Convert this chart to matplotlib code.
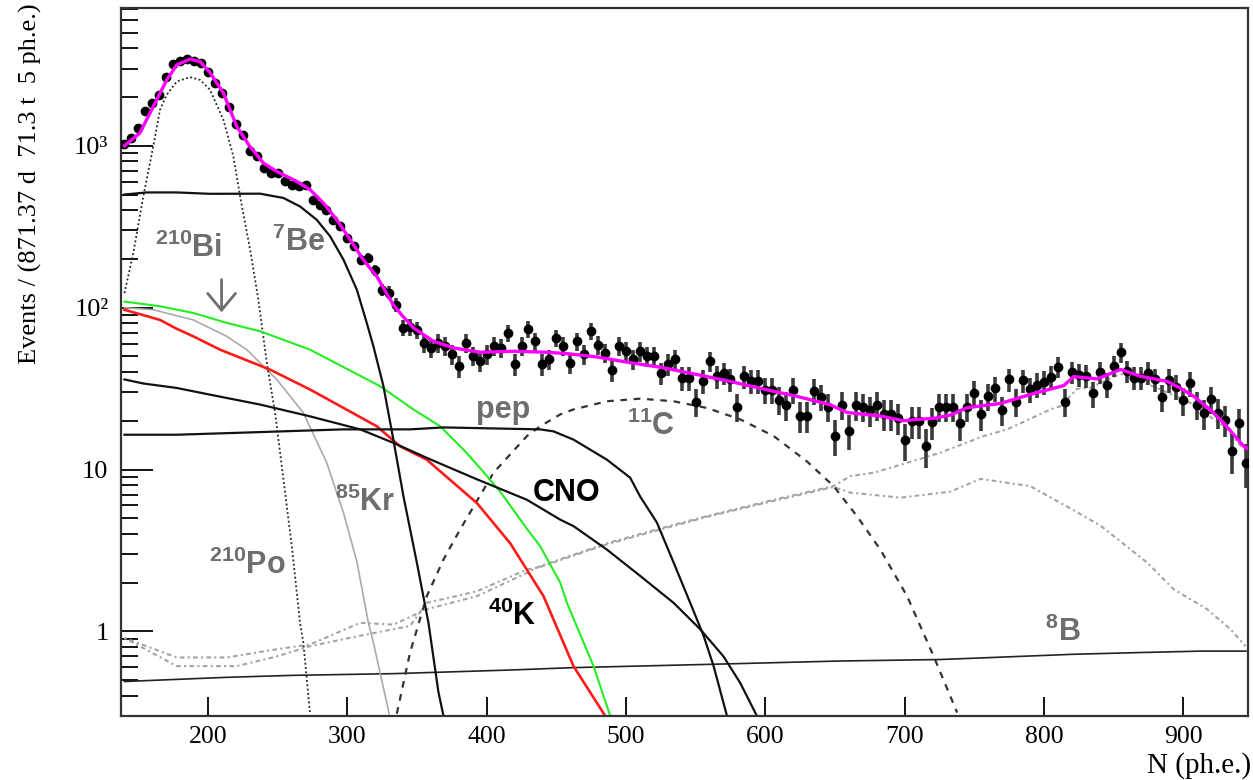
import numpy as np
import matplotlib.pyplot as plt
from matplotlib.ticker import LogLocator, NullLocator, FixedLocator, FixedFormatter

plt.rcParams['font.family'] = 'Liberation Serif'
plt.rcParams['mathtext.fontset'] = 'custom'
plt.rcParams['mathtext.bf'] = 'Liberation Sans:bold'
plt.rcParams['mathtext.rm'] = 'Liberation Sans:bold'

####### DADOS
# histograma: bins de 5 ph.e. a partir de 140
bin_centres = np.arange(140, 950, 5)
counts = [1030, 1117, 1286, 1630, 1834, 2065, 2654, 3210, 3360, 3430,
          3360, 3270, 2870, 2460, 2130, 1730, 1370, 1170, 935, 860,
          728, 678, 678, 603, 575, 561, 575, 464, 432, 403,
          350, 318, 270, 239, 197, 204, 171, 129, 124, 104,
          75, 76, 73,
          60.6, 56, 60.6, 57.8, 51.6, 43.6, 60.6, 50.4, 46.6, 51.6,
          57.8, 56.4, 69.8, 44.7, 57.8, 73.9, 62, 44.7, 48, 65,
          57.8, 45.7, 62, 51.6, 71.4, 59, 52.6, 41.2, 57.8, 53.8,
          48, 53.8, 50.3, 50.3, 39.4, 44.7, 48, 36.8, 36.8, 26.3,
          35, 46.6, 37.6, 39.4, 36, 24.5, 37.6, 35, 35, 31.1,
          31.1, 27, 25, 31.1, 21.4, 21.4, 30.5, 28.2, 24.5, 16.1,
          25.1, 17.4, 25, 24.5, 23.2, 25,
          22.1, 22.1, 20.8, 15.2, 20, 20, 14, 19.7, 24.5, 24.5,
          24.5, 19.4, 24.5, 29.8, 22.1, 28.3, 31.8, 23.3, 36, 26.3,
          35.5, 31.3, 33.5, 34.6, 37.3, 43.1, 26.3, 40, 38.6, 38,
          29.5, 40, 33.5, 43.9, 52.9, 40.5, 36.9, 36.9, 39.6, 36,
          28, 35.8, 32.5, 26.7, 34, 25.1, 22.3, 27.3, 22.5, 20.3,
          13, 19.3, 11]

fit_x = [140, 151, 160.7, 170.3, 177.5, 187, 194.3, 201.4, 211, 220.6,
         230, 239.7, 249.3, 263.7, 273.3, 282.8, 292.4, 302, 311.5, 321.1,
         333, 340, 347.4, 361.8, 376.2, 395.3, 419.2, 443.2, 457.6, 479.1,
         503, 527, 551, 574.9, 598.8, 622.8, 646.7, 658.7, 682.6, 699.3,
         708.9, 720.9, 732.9, 744.8, 768.8, 792.7, 814.2, 821.4, 838.2, 855,
         869.3, 888.5, 898, 907.6, 919.6, 929.1, 934, 943.5, 946]
fit_y = [1000, 1198, 1750, 2550, 3160, 3430, 3310, 2830, 2120, 1316,
         990, 782, 694, 602, 535, 443, 349, 263, 197, 156,
         104, 88, 75, 62, 56.4, 53, 53.8, 53, 52, 49.6,
         45.7, 42.5, 38.6, 35, 31.4, 28.3, 25.1, 22.5, 21.4, 20,
         20.4, 20.7, 21.7, 24.1, 25.6, 29.5, 33, 37.5, 36.3, 41.5,
         37.7, 35, 31.8, 28.3, 23.3, 19.4, 17.3, 13.9, 13.5]

po210_x = [140, 146.4, 153.5, 160.7, 165.5, 170.3, 177.5, 187, 194.3, 201.4,
           211, 218.2, 223, 230.2, 236.1, 242.2, 248.1, 254.1, 260.1, 266,
           268.4, 273.2]
po210_y = [123, 219, 486, 996, 1667, 2065, 2494, 2655, 2553, 2218,
           1447, 858, 486, 228, 112, 45.5, 22.4, 8.7, 3.36, 1.13,
           0.85, 0.31]

be7_x = [140, 156, 177.5, 201.4, 237.3, 254.1, 266, 278, 287.6, 297.2,
         306.8, 314, 318.7, 325.9, 333, 340.3, 349.9, 358.2, 365.4, 369]
be7_y = [500, 515, 515, 505, 506, 476, 422, 349, 276, 198,
         129, 80, 57.7, 32.7, 15.3, 6.8, 2.65, 1.13, 0.42, 0.3]

pep_x = [140, 177.5, 225.4, 297, 345, 369, 438.4, 448, 462.3, 486.3,
         503, 510.2, 522.2, 534.2, 546.1, 555.7, 562.9, 572.5]
pep_y = [16.4, 16.4, 16.9, 17.7, 17.7, 18.2, 17.7, 17.2, 15.3, 11.5,
         8.9, 6.8, 4.7, 2.66, 1.5, 0.94, 0.61, 0.3]

cno_x = [140, 153.5, 177.5, 201.4, 237.3, 273.2, 309.2, 333.1, 357, 393,
         428.9, 452.8, 462.3, 486.3, 510.2, 534.2, 553.3, 570, 582, 594]
cno_y = [36, 34, 31.9, 29, 25.2, 21.3, 17.7, 14.6, 11.8, 8.7,
         6.5, 4.9, 4.47, 3.2, 2.2, 1.5, 1.03, 0.7, 0.48, 0.3]

c11_x = [335.5, 345, 357, 369, 381, 404.9, 428.9, 438.4, 452.8, 462.3,
         486.3, 510.2, 534.2, 558.1, 582, 606, 630, 649, 665.8, 682.6,
         701.8, 720.9, 737.7]
c11_y = [0.31, 0.74, 1.65, 2.78, 4.27, 9.55, 16.1, 18.5, 21.9, 23.5,
         26.4, 27.4, 26.4, 24, 20.4, 16.1, 11.2, 7.9, 5.15, 3.2,
         1.65, 0.7, 0.315]

bi210_x = [140, 165.5, 189.4, 213.4, 237.3, 273.2, 323.5, 347.4, 366.6, 383.3,
           395.3, 409.7, 428.9, 438.4, 452.8, 457.6, 476.7, 488.7]
bi210_y = [109, 102, 92.7, 80.5, 71.5, 55, 32.7, 23.5, 18.5, 13.3,
           10.2, 7.3, 4.3, 3.36, 2.0, 1.5, 0.61, 0.3]

k40_x = [140, 165.5, 177.5, 189.4, 208.6, 244.5, 273.2, 321.1, 337.9, 357,
         393, 416.9, 440.8, 462.3, 485.1]
k40_y = [97, 84, 74, 66.5, 55, 41.4, 31.2, 18.5, 13.9, 11.5,
         6.2, 3.5, 1.65, 0.61, 0.3]

kr85_x = [140, 160.7, 189.4, 213.4, 227.8, 249.3, 268.4, 285.2, 297.2, 306.8,
          315.1, 318.7, 330]
kr85_y = [100, 97, 84, 66.5, 55, 36, 22.4, 11, 5.4, 2.7,
          1.13, 0.85, 0.31]

b8_x = [140, 213.4, 261.3, 333, 416.9, 462.3, 558.1, 653.9, 725.7, 761.6,
        821.4, 869.3, 912.4, 945]
b8_y = [0.49, 0.52, 0.535, 0.548, 0.577, 0.597, 0.625, 0.656, 0.67, 0.689,
        0.722, 0.74, 0.755, 0.755]

ext1_x = [140, 177.5, 213.4, 249.3, 273.2, 309.2, 333, 357, 393, 428.9,
          438.4, 486.3, 522.2, 558.1, 606, 649, 661, 677.8, 701.8, 725.7,
          756.8, 773.6, 804.7, 811.8, 823.8, 833.4, 854.9, 881.3, 905.2, 929.1,
          943.5]
ext1_y = [0.91, 0.69, 0.69, 0.775, 0.83, 1.13, 1.1, 1.37, 1.65, 2.3,
          2.53, 3.5, 4.27, 5.15, 6.5, 7.9, 9.1, 9.55, 11, 12.7,
          16.1, 17.7, 23.5, 24.6, 31.5, 32, 39, 31.9, 25.8, 18.5,
          13.3]

ext2_x = [140, 177.5, 220.6, 249.3, 273.2, 309.2, 345, 357, 393, 428.9,
          438.4, 486.3, 522.2, 558.1, 606, 649, 661, 696.9, 732.9, 754.4,
          790, 816.7, 840.6, 874.1, 893.2, 917.2, 933.9, 944.7]
ext2_y = [0.91, 0.61, 0.61, 0.7, 0.81, 0.94, 1.08, 1.5, 1.77, 2.41,
          2.5, 3.45, 4.2, 5.1, 6.4, 7.8, 7.2, 6.7, 7.3, 8.75,
          7.9, 5.9, 4.5, 2.66, 1.82, 1.37, 1.03, 0.81]

####### GRAFICO
fig = plt.figure(figsize=(12.53, 7.8), dpi=100)
ax = fig.add_axes([121/1253, 1 - 716/780, 1127/1253, 708/780])

ext_style = dict(color='#a3a3a3', lw=1.5, ls=(0, (1, 1.6, 2.2, 1.6)))
ax.plot(ext1_x, ext1_y, **ext_style)
ax.plot(ext2_x, ext2_y, **ext_style)
ax.plot(b8_x, b8_y, color='#222222', lw=1.2)
ax.plot(kr85_x, kr85_y, color='#aaaaaa', lw=1.2)
ax.plot(po210_x, po210_y, color='#222222', lw=1.3, ls=(0, (1, 1.4)))
ax.plot(c11_x, c11_y, color='#333333', lw=1.6, ls=(0, (3, 3)))
ax.plot(k40_x, k40_y, color='#ff1a1a', lw=1.9)
ax.plot(bi210_x, bi210_y, color='#22ee22', lw=1.5)
ax.plot(cno_x, cno_y, color='#111111', lw=1.6)
ax.plot(pep_x, pep_y, color='#111111', lw=1.6)
ax.plot(be7_x, be7_y, color='#111111', lw=1.6)

counts = np.array(counts)
ax.errorbar(bin_centres, counts, yerr=np.sqrt(counts), fmt='o', color='black',
            ms=6, ecolor='#3a3a3a', elinewidth=2.6, capsize=0, zorder=4)
ax.plot(fit_x, fit_y, color='#ff00ff', lw=2.4, zorder=5)

ax.set_yscale('log')
ax.set_xlim(137.5, 946.5)
ax.set_ylim(0.3, 7100)

ax.xaxis.set_major_locator(FixedLocator([200, 300, 400, 500, 600, 700, 800, 900]))
ax.xaxis.set_minor_locator(NullLocator())
ax.yaxis.set_major_locator(FixedLocator([1, 10, 100, 1000]))
ax.yaxis.set_major_formatter(FixedFormatter(['1', '10', '10²', '10³']))
ax.yaxis.set_minor_locator(LogLocator(base=10, subs=np.arange(2, 10)))
ax.yaxis.set_minor_formatter(plt.NullFormatter())

ax.tick_params(axis='y', which='major', direction='in', length=23, width=1.3,
               right=False, labelsize=19, pad=9)
ax.tick_params(axis='y', which='minor', direction='in', length=12, width=1.3, right=False)
ax.tick_params(axis='x', which='major', direction='in', length=14, width=1.3,
               top=False, labelsize=18.5, pad=7)
for s in ax.spines.values():
    s.set_linewidth(1.6)
    s.set_color('#333333')

fig.text(30/1253, 1 - 3/780, 'Events / (871.37 d  71.3 t  5 ph.e.)', rotation=90,
         ha='center', va='top', fontsize=19)
fig.text(1251/1253, 1 - 779/780, 'N (ph.e.)', ha='right', va='bottom', fontsize=21)

# rotulos
grey = '#6e6e6e'
lab = dict(ha='center', va='center', fontsize=22, fontweight='bold', family='Liberation Sans')
ax.text(186, 234, r'$^{\mathbf{210}}$Bi', color=grey, **lab)
ax.text(265, 252, r'$^{\mathbf{7}}$Be', color=grey, **lab)
ax.text(412, 23.3, 'pep', color=grey, **lab)
ax.text(518, 18.4, r'$^{\mathbf{11}}$C', color=grey, **lab)
ax.text(457, 7.16, 'CNO', color='black', **lab)
ax.text(312.7, 6.25, r'$^{\mathbf{85}}$Kr', color=grey, **lab)
ax.text(228.4, 2.55, r'$^{\mathbf{210}}$Po', color=grey, **lab)
ax.text(418.3, 1.24, r'$^{\mathbf{40}}$K', color='black', **lab)
ax.text(813.6, 0.99, r'$^{\mathbf{8}}$B', color=grey, **lab)
ax.annotate('', xy=(209.7, 90), xytext=(209.7, 155),
            arrowprops=dict(arrowstyle='->,head_length=0.6,head_width=0.5',
                            color=grey, lw=2, mutation_scale=20))

fig.savefig('out.png', dpi=100)
